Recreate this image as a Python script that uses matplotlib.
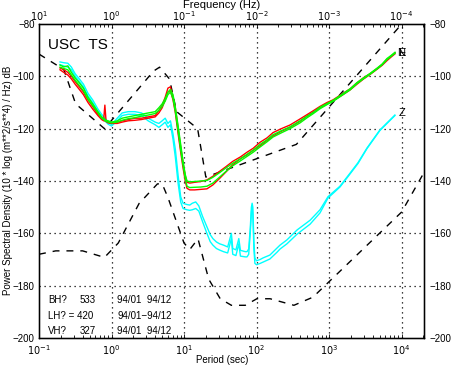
import numpy as np
import matplotlib
matplotlib.use("Agg")
import matplotlib.pyplot as plt

plt.rcParams['font.family'] = ['Liberation Sans', 'DejaVu Sans']

# ---------------- data (period in s, PSD in dB) ----------------
nhnm_period = [0.1, 0.22, 0.32, 0.8, 3.8, 4.6, 6.3, 7.9, 15.4, 20.0, 354.8, 10000, 20000]
nhnm_db = [-91.5, -97.4, -110.5, -120.0, -98.0, -96.5, -101.0, -113.5, -120.0, -138.5, -126.0, -80.1, -70.6]

nlnm_period = [0.1, 0.17, 0.4, 0.8, 1.24, 2.4, 4.3, 5.0, 6.0, 10.0, 12.0, 15.6, 21.9, 31.6,
               45.0, 70.0, 101.0, 154.0, 328.0, 600.0, 10000, 20000]
nlnm_db = [-168.0, -166.7, -166.7, -169.2, -163.7, -148.6, -141.1, -141.1, -146.3, -163.7,
           -166.2, -162.1, -177.5, -185.0, -187.5, -187.5, -185.0, -185.0, -187.5, -184.4,
           -151.9, -137.2]

period_h = [0.195, 0.22, 0.25, 0.28, 0.315, 0.36, 0.41, 0.474, 0.55, 0.65, 0.73, 0.78, 0.81,
            0.84, 0.9, 1.0, 1.2, 1.4, 1.7, 2.1, 2.6, 3.2, 4.0, 4.5, 5.0, 5.5, 6.0, 6.5, 7.05,
            7.6, 8.3, 9.0, 9.7, 10.4, 11, 12, 14, 17, 20.7, 25, 31, 38, 47, 60, 74, 90, 112,
            140, 169, 220, 290, 398, 500, 603, 750, 940, 1135, 1560, 1950, 2430, 3000, 3680,
            4590, 5400, 6300, 7200, 8130]

red_a = [-96.8, -97.5, -98.5, -100, -102, -104, -106, -109, -111.5, -114.5, -116, -116.5, -111,
         -116.8, -117.5, -117.8, -117.5, -117, -116.5, -116, -116, -115.5, -115, -113, -111,
         -108, -104.5, -104, -108, -112, -120, -127, -133, -138, -140.5, -140.8, -140.5,
         -140.2, -139.6, -138.2, -136.3, -134.5, -132.5, -130.8, -129, -127.5, -125.2, -123.5,
         -121.5, -120, -118.6, -116.3, -114.6, -113.2, -111.5, -110, -109, -106.5, -104.8,
         -102.5, -100.5, -99, -97, -95.5, -93.5, -92.2, -91]
red_b = [-97.5, -98.5, -99.5, -101, -103, -105, -107, -110, -112.5, -115, -116.5, -117, -117,
         -117.3, -117.8, -118, -118, -117.5, -117, -116.8, -116.5, -116, -115.5, -114, -112,
         -109, -106, -105.5, -109, -114, -122, -129, -135, -140, -142.8, -143.4, -143.4,
         -143.2, -143, -141.5, -139, -136.5, -133.8, -131.5, -130, -128.3, -126.5, -124.5,
         -122.8, -121, -119.5, -117.2, -115.2, -113.8, -112, -110.5, -109.4, -107, -105.2,
         -103, -101, -99.3, -97.3, -95.8, -94, -92.6, -91.4]
green_a = [-95.7, -96.4, -96, -98.5, -100.6, -102.5, -104.5, -108, -110.5, -113.5, -115.5, -116,
           -116.5, -116.8, -117, -117.5, -117, -116, -115.5, -115, -114.5, -114, -113.5, -112,
           -110.5, -108.5, -106, -105, -107, -112, -119, -126, -132.5, -137.5, -140, -140.3,
           -140.2, -140, -139.8, -138.6, -136.8, -135, -133.2, -131.5, -129.8, -128.2, -126,
           -124.2, -122.3, -120.8, -119.3, -117, -115.2, -113.8, -111.8, -110.4, -109.2,
           -106.6, -104.8, -102.4, -100.6, -98.9, -96.9, -95.3, -93.2, -92, -90.8]
green_b = [-96.5, -97, -97.5, -99.5, -101.5, -103.5, -105.5, -108.8, -111.2, -114, -116, -116.5,
           -117, -117.2, -117.5, -117.8, -117.5, -116.8, -116.2, -115.8, -115.2, -114.8, -114.2,
           -113, -111.5, -109.5, -107, -106, -108.5, -113.5, -121, -128, -134, -139, -142,
           -142.5, -142.4, -142.3, -142, -140.8, -138.5, -136.3, -134.2, -132.3, -130.6, -129,
           -127, -125, -123.2, -121.6, -120, -117.8, -115.8, -114.3, -112.4, -110.8, -109.6,
           -107, -105.2, -102.8, -100.9, -99.2, -97.2, -95.6, -93.6, -92.3, -91.2]

period_z = [0.195, 0.22, 0.25, 0.28, 0.315, 0.36, 0.41, 0.474, 0.55, 0.65, 0.73, 0.81, 0.9,
            1.0, 1.2, 1.4, 1.7, 2.1, 2.6, 3.2, 4.0, 4.5, 5.0, 5.5, 6.0, 6.5, 7.05, 7.6, 8.3,
            9.0, 9.7, 10.4, 11, 12, 13, 14.5, 16, 18, 20.7, 23, 25, 28, 31, 35, 40, 45, 47,
            52, 57, 60, 70, 74, 78, 82, 85, 87, 89, 92, 95, 100, 112, 123, 153, 192, 211, 263,
            363, 548, 751, 968, 1415, 1950, 2510, 3340, 5030, 8100]
cyan_a = [-94.5, -94.8, -95, -96.5, -99, -101, -103, -106.5, -109, -112.5, -114.5, -116, -117.5,
          -118.5, -116, -114, -113.5, -113.5, -114, -116, -117.5, -118, -117, -116, -118, -117,
          -122, -128, -138, -146, -148.5, -148.8, -149, -149.2, -148.5, -148, -149.5, -153.5,
          -157.5, -160.5, -162, -163.3, -164, -164.5, -165.2, -160, -165.8, -166.3, -162,
          -166.5, -167, -167, -166, -158, -150, -148.5, -150, -163, -169.5, -170.5, -170,
          -169.4, -168.3, -165.6, -164.5, -162.5, -158.7, -155, -151, -146, -142, -137, -133,
          -127.4, -120.5, -114.8]
cyan_b = [-95.5, -96, -96.5, -97.5, -100, -102, -104, -107.5, -110, -113.5, -115.5, -117, -118.3,
          -119, -117, -115, -114.5, -114.5, -115, -117, -118.5, -119.5, -118.5, -117.5, -119.5,
          -118.5, -124, -131, -141, -148, -150.5, -150.8, -151, -151.2, -151, -150.5, -151.5,
          -155.5, -160, -163.2, -164.5, -165.8, -166.4, -167, -167.5, -162, -168, -168.5, -164,
          -168.7, -169, -169, -168, -160, -152, -149.5, -153, -166, -171.5, -172, -171.5, -171,
          -169.8, -167.2, -166, -164, -160.3, -156.5, -152.2, -146.5, -142.3, -137.3, -133.3,
          -127.6, -120.7, -115]

xticks_period = [0.1, 1, 10, 100, 1000, 10000]
xlabels_period = [r'$10^{-1}$', r'$10^{0}$', r'$10^{1}$', r'$10^{2}$', r'$10^{3}$', r'$10^{4}$']
xlabels_freq = [r'$10^{1}$', r'$10^{0}$', r'$10^{-1}$', r'$10^{-2}$', r'$10^{-3}$', r'$10^{-4}$']
yticks = [-80, -100, -120, -140, -160, -180, -200]

legend_rows = [("BH?", "533", "94/01  94/12"),
               ("LH? = 420", "", "94/01\u221294/12"),
               ("VH?", "327", "94/01  94/12")]

# ---------------- figure ----------------
W, H = 452, 367
fig = plt.figure(figsize=(W / 100, H / 100), dpi=100)
ax = fig.add_axes([39 / W, 1 - 338 / H, 385 / W, 314 / H])

xmin, xmax = 0.1, 10 ** 4.31
ax.set_xscale('log')
ax.set_xlim(xmin, xmax)
ax.set_ylim(-200, -80)

# grid
for t in xticks_period[1:]:
    ax.axvline(t, color='black', lw=0.9, ls=(0, (1, 3)), zorder=1)
for y in yticks[1:-1]:
    ax.axhline(y, color='black', lw=0.9, ls=(0, (1, 3)), zorder=1)

dash = (0, (5, 5))
ax.plot(nhnm_period, nhnm_db, color='black', lw=1.0, ls=dash, zorder=2)
ax.plot(nlnm_period, nlnm_db, color='black', lw=1.0, ls=dash, zorder=2)

ax.plot(period_z, cyan_b, color='#00ffff', lw=1.0, zorder=3)
ax.plot(period_z, cyan_a, color='#00ffff', lw=1.0, zorder=3)
ax.plot(period_h, red_b, color='#ff0000', lw=1.0, zorder=4)
ax.plot(period_h, green_b, color='#00ff00', lw=1.0, zorder=5)
ax.plot(period_h, red_a, color='#ff0000', lw=1.0, zorder=4)
ax.plot(period_h, green_a, color='#00ff00', lw=1.0, zorder=5)

# ticks
ax.set_xticks(xticks_period)
ax.set_xticklabels(xlabels_period, fontsize=7)
ax.set_yticks(yticks)
ax.set_yticklabels([str(v).replace('-', '\u2212') for v in yticks], fontsize=7)
ax.tick_params(axis='both', which='both', direction='in', length=3, width=0.6)
ax.tick_params(axis='x', which='both', pad=4)
ax.tick_params(axis='x', which='minor', length=2)
ax.tick_params(axis='y', which='major', length=0, pad=3)
ax.xaxis.set_minor_locator(matplotlib.ticker.LogLocator(base=10, subs=np.arange(2, 10), numticks=20))
ax.xaxis.set_minor_formatter(matplotlib.ticker.NullFormatter())
for s in ax.spines.values():
    s.set_linewidth(1.0)

# top frequency axis
axt = ax.twiny()
axt.set_xscale('log')
axt.set_xlim(xmin, xmax)
axt.set_xticks(xticks_period)
axt.set_xticklabels(xlabels_freq, fontsize=7)
axt.xaxis.set_minor_locator(matplotlib.ticker.LogLocator(base=10, subs=np.arange(2, 10), numticks=20))
axt.xaxis.set_minor_formatter(matplotlib.ticker.NullFormatter())
axt.tick_params(axis='x', which='both', direction='in', length=3, width=0.6, pad=1)
axt.tick_params(axis='x', which='minor', length=2)

# right axis
axr = ax.twinx()
axr.set_ylim(-200, -80)
axr.set_yticks(yticks)
axr.set_yticklabels([str(v).replace('-', '\u2212') for v in yticks], fontsize=7)
axr.tick_params(axis='y', direction='in', length=0, pad=4)

fig.text(222 / W, 1 - 5 / H, 'Frequency (Hz)', ha='center', va='center', fontsize=8)
fig.text(222 / W, 1 - 360 / H, 'Period (sec)', ha='center', va='center', fontsize=7)
fig.text(8 / W, 1 - 180 / H, 'Power Spectral Density (10 * log (m**2/s**4) / Hz) dB',
         rotation=90, ha='center', va='center', fontsize=7)

ax.text(0.1 * 10 ** (9 / 72.5), -88, 'USC  TS', fontsize=11, ha='left', va='center', zorder=6)
ax.text(10 ** 4.0, -91, 'N', fontsize=8, ha='center', va='center', zorder=6)
ax.text(10 ** 4.0, -91, 'E', fontsize=8, ha='center', va='center', zorder=6)
ax.text(10 ** 4.0, -114, 'Z', fontsize=8, ha='center', va='center', zorder=6)

ys = [-185.5, -191.5, -197.5]
for (a, b, c), yv in zip(legend_rows, ys):
    ax.text(0.1 * 10 ** (9 / 72.5), yv, a, fontsize=7, ha='left', va='center')
    if b:
        ax.text(0.1 * 10 ** (41 / 72.5), yv, b, fontsize=7, ha='left', va='center')
    ax.text(0.1 * 10 ** (78 / 72.5), yv, c, fontsize=7, ha='left', va='center')

fig.savefig('out.png', dpi=100)
